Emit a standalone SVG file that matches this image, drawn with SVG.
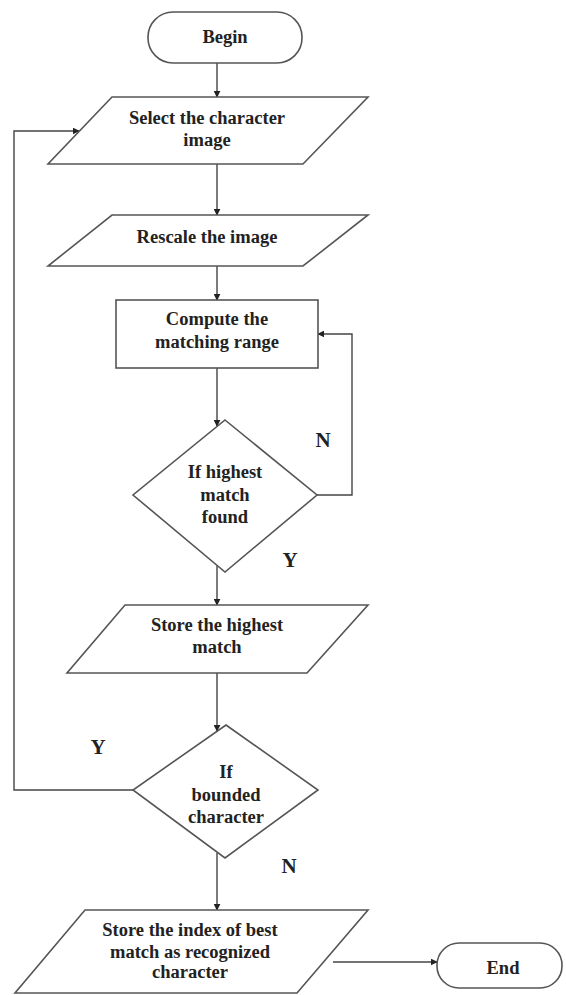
<svg xmlns="http://www.w3.org/2000/svg" width="566" height="995" viewBox="0 0 566 995">
  <defs>
    <marker id="arr" viewBox="0 0 10 10" refX="9" refY="5" markerWidth="7" markerHeight="7" orient="auto" markerUnits="userSpaceOnUse">
      <path d="M0,0 L10,5 L0,10 z" fill="#222"/>
    </marker>
    <style>
      .shape { fill: #fff; stroke: #555; stroke-width: 1.6; }
      .conn { fill: none; stroke: #444; stroke-width: 1.4; }
      .txt { font-family: "Liberation Serif", "Times New Roman", serif; font-weight: bold; font-size: 18.5px; fill: #222; text-anchor: middle; }
      .lbl { font-family: "Liberation Serif", "Times New Roman", serif; font-weight: bold; font-size: 21px; fill: #222; text-anchor: middle; }
    </style>
  </defs>
  <rect width="566" height="995" fill="#fff"/>

  <g id="connectors">
    <line class="conn" x1="217" y1="63" x2="217" y2="97" marker-end="url(#arr)"/>
    <line class="conn" x1="217" y1="164" x2="217" y2="215" marker-end="url(#arr)"/>
    <line class="conn" x1="217" y1="266" x2="217" y2="300" marker-end="url(#arr)"/>
    <line class="conn" x1="217" y1="368" x2="217" y2="426" marker-end="url(#arr)"/>
    <polyline class="conn" points="317,495 352,495 352,334 318,334" marker-end="url(#arr)"/>
    <line class="conn" x1="217" y1="566" x2="217" y2="605" marker-end="url(#arr)"/>
    <line class="conn" x1="217" y1="673" x2="217" y2="731" marker-end="url(#arr)"/>
    <polyline class="conn" points="133,790 14,790 14,131 79,131" marker-end="url(#arr)"/>
    <line class="conn" x1="217" y1="853" x2="217" y2="910" marker-end="url(#arr)"/>
    <line class="conn" x1="333" y1="962" x2="437" y2="962" marker-end="url(#arr)"/>
  </g>

  <g id="begin">
    <rect class="shape" x="148" y="12" width="154" height="51" rx="25" ry="25"/>
    <text class="txt" x="225" y="43">Begin</text>
  </g>

  <g id="select">
    <polygon class="shape" points="112,97 368,97 303,164 48,164"/>
    <text class="txt" x="207" y="124">Select the character</text>
    <text class="txt" x="207" y="146">image</text>
  </g>

  <g id="rescale">
    <polygon class="shape" points="112,215 368,215 303,266 48,266"/>
    <text class="txt" x="207" y="243">Rescale the image</text>
  </g>

  <g id="compute">
    <rect class="shape" x="116" y="300" width="202" height="68"/>
    <text class="txt" x="217" y="325">Compute the</text>
    <text class="txt" x="217" y="348">matching range</text>
  </g>

  <g id="decision1">
    <polygon class="shape" points="225,420 317,495 225,572 133,495"/>
    <text class="txt" x="225" y="478">If highest</text>
    <text class="txt" x="225" y="501">match</text>
    <text class="txt" x="225" y="523">found</text>
  </g>

  <g id="store-highest">
    <polygon class="shape" points="125,605 368,605 307,673 67,673"/>
    <text class="txt" x="217" y="631">Store the highest</text>
    <text class="txt" x="217" y="653">match</text>
  </g>

  <g id="decision2">
    <polygon class="shape" points="226,725 318,790 225,858 133,790"/>
    <text class="txt" x="226" y="778">If</text>
    <text class="txt" x="226" y="801">bounded</text>
    <text class="txt" x="226" y="823">character</text>
  </g>

  <g id="store-index">
    <polygon class="shape" points="85,910 368,910 297,993 15,993"/>
    <text class="txt" x="190" y="936">Store the index of best</text>
    <text class="txt" x="190" y="958">match as recognized</text>
    <text class="txt" x="190" y="978">character</text>
  </g>

  <g id="end">
    <rect class="shape" x="437" y="943" width="125" height="45" rx="22" ry="22"/>
    <text class="txt" x="503" y="974">End</text>
  </g>

  <g id="labels">
    <text class="lbl" x="323" y="447">N</text>
    <text class="lbl" x="290" y="567">Y</text>
    <text class="lbl" x="98" y="754">Y</text>
    <text class="lbl" x="289" y="873">N</text>
  </g>
</svg>
